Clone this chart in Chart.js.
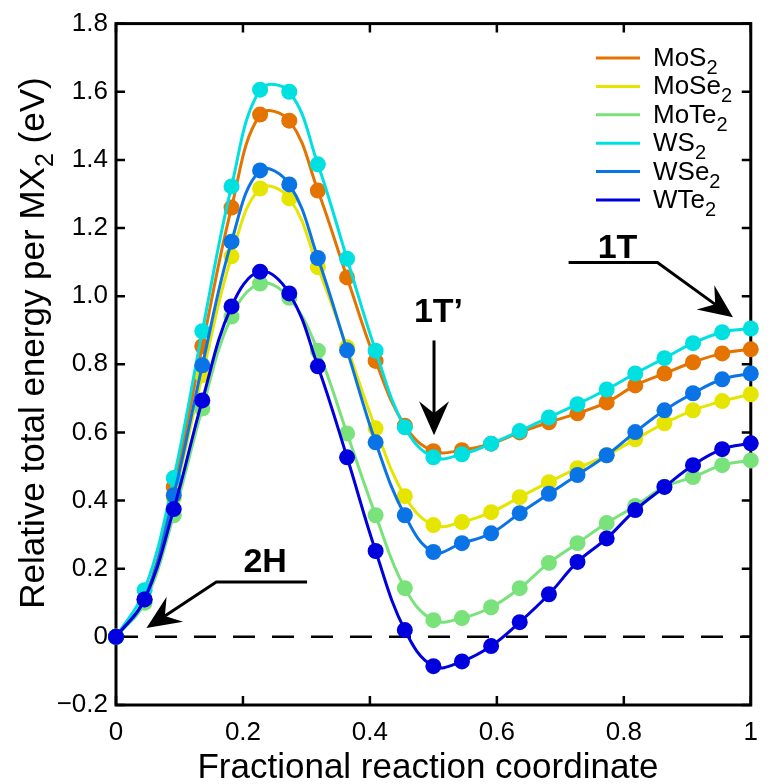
<!DOCTYPE html>
<html>
<head>
<meta charset="utf-8">
<script src="https://cdn.jsdelivr.net/npm/chart.js@4.4.1/dist/chart.umd.min.js"></script>
<style>
  html, body { margin: 0; padding: 0; background: #fff; }
  #wrap { width: 770px; height: 784px; }
</style>
</head>
<body>
<div id="wrap"><canvas id="energyChart" width="770" height="784"></canvas></div>
<script>
// reaction coordinate of the NEB images
const xValues = [0, 0.045, 0.091, 0.136, 0.182, 0.227, 0.273, 0.318, 0.364, 0.409, 0.455, 0.5,
  0.545, 0.591, 0.636, 0.682, 0.727, 0.773, 0.818, 0.864, 0.909, 0.955, 1];

const mos2  = [0, 0.11, 0.44, 0.853, 1.26, 1.533, 1.515, 1.31, 1.055, 0.81, 0.62, 0.545,
  0.548, 0.567, 0.60, 0.63, 0.656, 0.688, 0.738, 0.773, 0.806, 0.832, 0.844];
const mose2 = [0, 0.105, 0.407, 0.768, 1.117, 1.316, 1.287, 1.085, 0.85, 0.612, 0.413, 0.328,
  0.337, 0.366, 0.41, 0.454, 0.495, 0.533, 0.58, 0.627, 0.665, 0.692, 0.712];
const mote2 = [0, 0.1, 0.357, 0.67, 0.94, 1.037, 0.995, 0.84, 0.597, 0.357, 0.143, 0.049,
  0.055, 0.087, 0.143, 0.217, 0.275, 0.334, 0.384, 0.44, 0.469, 0.504, 0.518];
const ws2   = [0, 0.137, 0.466, 0.897, 1.322, 1.606, 1.60, 1.387, 1.11, 0.84, 0.615, 0.527,
  0.536, 0.567, 0.604, 0.644, 0.683, 0.726, 0.773, 0.818, 0.862, 0.894, 0.905];
const wse2  = [0, 0.11, 0.416, 0.797, 1.16, 1.369, 1.328, 1.112, 0.841, 0.571, 0.357, 0.249,
  0.275, 0.304, 0.363, 0.42, 0.475, 0.533, 0.601, 0.665, 0.715, 0.756, 0.773];
const wte2  = [0, 0.11, 0.375, 0.694, 0.97, 1.072, 1.008, 0.794, 0.527, 0.252, 0.02, -0.086,
  -0.072, -0.027, 0.043, 0.125, 0.22, 0.289, 0.372, 0.44, 0.504, 0.551, 0.568];

const seriesNames  = ['MoS2', 'MoSe2', 'MoTe2', 'WS2', 'WSe2', 'WTe2'];
const seriesValues = [mos2, mose2, mote2, ws2, wse2, wte2];
const seriesColors = ['#E57300', '#E5E500', '#79E27A', '#00E0E0', '#0A74E6', '#0000DF'];

const xTickLabels = ['0', '0.2', '0.4', '0.6', '0.8', '1'];
const yTickLabels = ['\u22120.2', '0', '0.2', '0.4', '0.6', '0.8', '1.0', '1.2', '1.4', '1.6', '1.8'];

// zero-energy reference (2H phase)
const zeroLineX = [0, 1];
const zeroLineY = [0, 0];

const FONT = '"Liberation Sans", Arial, Helvetica, sans-serif';

const datasets = seriesValues.map((vals, i) => ({
  label: seriesNames[i],
  data: vals.map((v, j) => ({ x: xValues[j], y: v })),
  borderColor: seriesColors[i],
  backgroundColor: seriesColors[i],
  borderWidth: 3,
  pointRadius: 8,
  pointHoverRadius: 8,
  pointBorderWidth: 0,
  tension: 0.4,
  clip: false,
  order: seriesNames.length - i   // later series drawn on top
}));

datasets.push({
  label: 'zero',
  data: zeroLineX.map((x, j) => ({ x, y: zeroLineY[j] })),
  borderColor: '#000',
  borderWidth: 2.5,
  borderDash: [22, 17],
  pointRadius: 0,
  tension: 0,
  order: 20
});

// box + inward ticks on all four sides
const framePlugin = {
  id: 'frame',
  beforeDatasetsDraw(chart) {
    const { ctx, chartArea: a, scales } = chart;
    ctx.save();
    ctx.strokeStyle = '#000';
    ctx.lineWidth = 3;
    ctx.strokeRect(a.left, a.top, a.right - a.left, a.bottom - a.top);
    ctx.lineWidth = 2.5;
    const len = 9;
    ctx.beginPath();
    scales.x.ticks.forEach(t => {
      const px = scales.x.getPixelForValue(t.value);
      ctx.moveTo(px, a.bottom); ctx.lineTo(px, a.bottom - len);
      ctx.moveTo(px, a.top); ctx.lineTo(px, a.top + len);
    });
    scales.y.ticks.forEach(t => {
      const py = scales.y.getPixelForValue(t.value);
      ctx.moveTo(a.left, py); ctx.lineTo(a.left + len, py);
      ctx.moveTo(a.right, py); ctx.lineTo(a.right - len, py);
    });
    ctx.stroke();
    ctx.restore();
  }
};

function drawArrow(ctx, pts, color) {
  // pts in pixels, last one is the tip
  const n = pts.length;
  const [tx, ty] = pts[n - 1];
  const [fx, fy] = pts[n - 2];
  const ang = Math.atan2(ty - fy, tx - fx);
  const c = Math.cos(ang), s = Math.sin(ang);
  const P = (a, b) => [tx + a * c - b * s, ty + a * s + b * c];
  const headLen = 34, half = 15, notch = 22;
  ctx.save();
  ctx.strokeStyle = color;
  ctx.fillStyle = color;
  ctx.lineWidth = 3;
  ctx.beginPath();
  ctx.moveTo(pts[0][0], pts[0][1]);
  for (let i = 1; i < n - 1; i++) ctx.lineTo(pts[i][0], pts[i][1]);
  const nb = P(-notch, 0);
  ctx.lineTo(nb[0], nb[1]);
  ctx.stroke();
  const p1 = P(-headLen, half), p2 = P(-headLen, -half);
  ctx.beginPath();
  ctx.moveTo(tx, ty);
  ctx.lineTo(p1[0], p1[1]);
  ctx.lineTo(nb[0], nb[1]);
  ctx.lineTo(p2[0], p2[1]);
  ctx.closePath();
  ctx.fill();
  ctx.restore();
}

// text with a trailing subscript "2" (e.g. MoS2)
function subText(ctx, x, y, base, sub, size, subSize, drop) {
  ctx.font = `${size}px ${FONT}`;
  ctx.fillText(base, x, y);
  const w = ctx.measureText(base).width;
  ctx.font = `${subSize}px ${FONT}`;
  ctx.fillText(sub, x + w, y + drop);
  return w + ctx.measureText(sub).width;
}

const overlayPlugin = {
  id: 'overlay',
  afterDraw(chart) {
    const { ctx, scales } = chart;
    const X = v => scales.x.getPixelForValue(v);
    const Y = v => scales.y.getPixelForValue(v);
    ctx.save();
    ctx.fillStyle = '#000';
    ctx.textBaseline = 'alphabetic';

    // legend
    seriesNames.forEach((name, i) => {
      const y = 58 + i * 28.4;
      ctx.strokeStyle = seriesColors[i];
      ctx.lineWidth = 3;
      ctx.beginPath();
      ctx.moveTo(596, y); ctx.lineTo(640, y);
      ctx.stroke();
      ctx.fillStyle = '#000';
      ctx.textAlign = 'left';
      subText(ctx, 653, y + 8, name.slice(0, -1), name.slice(-1), 26, 20, 8);
    });

    // phase annotations
    ctx.textAlign = 'center';
    ctx.font = `bold 34px ${FONT}`;
    ctx.fillText('2H', X(0.235), Y(0.225) + 12);
    ctx.fillText('1T\u2019', X(0.508), Y(0.958) + 12);
    ctx.fillText('1T', X(0.79), Y(1.146) + 12);

    drawArrow(ctx, [[X(0.301), Y(0.161)], [X(0.158), Y(0.161)], [X(0.048), Y(0.026)]], '#000');
    drawArrow(ctx, [[X(0.501), Y(0.870)], [X(0.501), Y(0.592)]], '#000');
    drawArrow(ctx, [[X(0.713), Y(1.099)], [X(0.853), Y(1.099)], [X(0.972), Y(0.938)]], '#000');

    // axis titles
    ctx.textAlign = 'center';
    ctx.font = `35px ${FONT}`;
    ctx.fillText('Fractional reaction coordinate', 428, 778);

    ctx.save();
    ctx.translate(44, 343);
    ctx.rotate(-Math.PI / 2);
    ctx.textAlign = 'left';
    const parts = ['Relative total energy per MX', '2', ' (eV)'];
    ctx.font = `35px ${FONT}`;
    const w1 = ctx.measureText(parts[0]).width;
    const w3 = ctx.measureText(parts[2]).width;
    ctx.font = `25px ${FONT}`;
    const w2 = ctx.measureText(parts[1]).width;
    let x0 = -(w1 + w2 + w3) / 2;
    ctx.font = `35px ${FONT}`;
    ctx.fillText(parts[0], x0, 0);
    ctx.font = `25px ${FONT}`;
    ctx.fillText(parts[1], x0 + w1, 9);
    ctx.font = `35px ${FONT}`;
    ctx.fillText(parts[2], x0 + w1 + w2, 0);
    ctx.restore();

    ctx.restore();
  }
};

new Chart(document.getElementById('energyChart'), {
  type: 'line',
  data: { datasets },
  options: {
    responsive: false,
    devicePixelRatio: 1,
    animation: false,
    layout: { padding: { top: 23, right: 7, left: 0, bottom: 0 } },
    plugins: { legend: { display: false }, tooltip: { enabled: false } },
    scales: {
      x: {
        type: 'linear',
        min: 0,
        max: 1,
        grid: { display: false, drawTicks: false },
        border: { display: false },
        ticks: {
          stepSize: 0.2,
          autoSkip: false,
          maxRotation: 0,
          padding: 12,
          color: '#000',
          font: { family: FONT, size: 26 },
          callback: (v, i) => xTickLabels[i]
        },
        afterFit: s => { s.height = 79; }
      },
      y: {
        type: 'linear',
        min: -0.2,
        max: 1.8,
        grid: { display: false, drawTicks: false },
        border: { display: false },
        ticks: {
          stepSize: 0.2,
          autoSkip: false,
          padding: 8,
          color: '#000',
          font: { family: FONT, size: 26 },
          callback: (v, i) => yTickLabels[i]
        },
        afterFit: s => { s.width = 116; }
      }
    }
  },
  plugins: [framePlugin, overlayPlugin]
});
</script>
</body>
</html>
